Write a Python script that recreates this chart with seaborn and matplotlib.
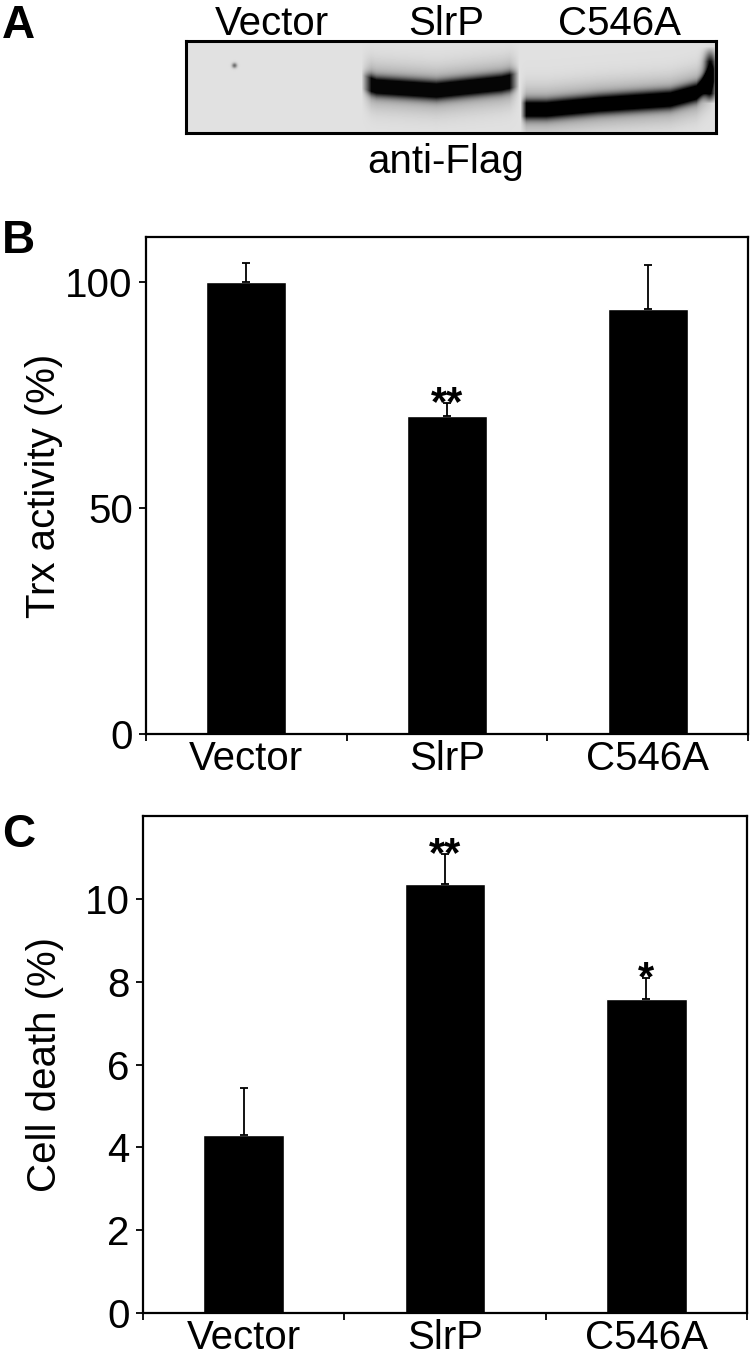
import numpy as np
import pandas as pd
import matplotlib
matplotlib.use('Agg')
import matplotlib.pyplot as plt
import seaborn as sns

# data
groups = ['Vector', 'SlrP', 'C546A']
trx_activity = [100, 70.4, 94.1]
trx_err = [4.2, 2.8, 9.6]
trx_marks = ['', '**', '']
cell_death = [4.29, 10.35, 7.59]
cell_death_err = [1.15, 0.73, 0.49]
death_marks = ['', '**', '*']

sns.set_style('ticks')
plt.rcParams['font.family'] = ['Liberation Sans', 'DejaVu Sans']
plt.rcParams.update({'text.color': 'black', 'axes.labelcolor': 'black',
                     'xtick.color': 'black', 'ytick.color': 'black',
                     'axes.edgecolor': 'black'})

W, H = 750, 1361
fig = plt.figure(figsize=(W / 100, H / 100), dpi=100)


def px_axes(left, top, right, bottom):
    # axes placed by pixel box (top-left origin)
    return fig.add_axes([left / W, 1 - bottom / H, (right - left) / W, (bottom - top) / H])


# ---- panel A: western blot ----
ax_a = px_axes(186, 41, 716, 133)
h, w = 92, 530
yy, xx = np.mgrid[0:h, 0:w]
img = np.full((h, w), 0.88)


def band(px, py, sigma, strength, soft=12):
    yc = np.interp(xx, px, py)
    env = np.clip((xx - px[0]) / soft, 0, 1) * np.clip((px[-1] - xx) / soft, 0, 1)
    core = np.exp(-np.abs((yy - yc) / sigma) ** 2.5)
    halo = 0.35 * np.exp(-((yy - yc) / (sigma * 2.2)) ** 2)
    return strength * env * np.clip(core + halo, 0, 1)


img -= band([175, 190, 250, 315, 333], [40, 45, 49, 42, 38], 9.5, 0.86, soft=10)
img -= band([334, 360, 412, 484, 510, 529], [68, 68, 63, 58, 51, 32], 9.5, 0.88, soft=6)
# dark streak at the right edge of the C546A lane
img -= 0.7 * np.exp(-((xx - 524) / 6) ** 2) * np.clip((yy - 5) / 15, 0, 1) * np.clip((62 - yy) / 10, 0, 1)
# small speck in the vector lane
img -= 0.45 * np.exp(-(((xx - 48) / 2.5) ** 2 + ((yy - 24) / 2.5) ** 2))
img = np.clip(img, 0, 1)
ax_a.imshow(img, cmap='gray', vmin=0, vmax=1, aspect='auto', interpolation='bilinear')
ax_a.set_xticks([])
ax_a.set_yticks([])
for s in ax_a.spines.values():
    s.set_linewidth(2.2)
    s.set_color('black')

for name, xc in zip(groups, [272, 446, 620]):
    fig.text(xc / W, 1 - 35 / H, name, ha='center', va='baseline', fontsize=29)
fig.text(446 / W, 1 - 173 / H, 'anti-Flag', ha='center', va='baseline', fontsize=29)

# panel letters
for letter, base in zip(['A', 'B', 'C'], [38, 253, 847]):
    fig.text(2 / W, 1 - base / H, letter, ha='left', va='baseline', fontsize=33, fontweight='bold')


def bar_panel(ax, values, errs, marks, ymax, yticks, ylabel, label_x):
    df = pd.DataFrame({'group': groups, 'value': values})
    sns.barplot(data=df, x='group', y='value', color='black', saturation=1,
                width=0.4, errorbar=None, ax=ax)
    ax.errorbar(range(len(groups)), values, yerr=[np.zeros(len(errs)), errs],
                fmt='none', ecolor='black', elinewidth=1.3, capsize=3.2, capthick=1.3)
    for i, m in enumerate(marks):
        if m:
            ax.annotate(m, (i, values[i] + errs[i]), xytext=(0, -8.5),
                        textcoords='offset points', ha='center', va='baseline',
                        fontsize=30, fontweight='bold')
    ax.set_xlim(-0.5, 2.5)
    ax.set_ylim(0, ymax)
    ax.set_xticks(range(len(groups)), groups)
    ax.set_xticks([-0.5, 0.5, 1.5, 2.5], minor=True)
    ax.tick_params(axis='x', which='major', length=0, pad=4.5, labelsize=29)
    ax.tick_params(axis='x', which='minor', length=5, width=1.3, direction='out')
    ax.set_yticks(yticks)
    ax.tick_params(axis='y', length=5, width=1.3, pad=4.5, labelsize=29)
    ax.set_xlabel('')
    ax.set_ylabel(ylabel, fontsize=29)
    ax.yaxis.label.set_va('center')
    ax.yaxis.set_label_coords(label_x, 0.5)
    for s in ax.spines.values():
        s.set_linewidth(1.6)
        s.set_color('black')


ax_b = px_axes(146, 237, 748, 734)
bar_panel(ax_b, trx_activity, trx_err, trx_marks, 110, [0, 50, 100],
          'Trx activity (%)', -0.169)

ax_c = px_axes(143, 816, 747, 1313)
bar_panel(ax_c, cell_death, cell_death_err, death_marks, 12, [0, 2, 4, 6, 8, 10],
          'Cell death (%)', -0.162)

fig.savefig('out.png', dpi=100)
